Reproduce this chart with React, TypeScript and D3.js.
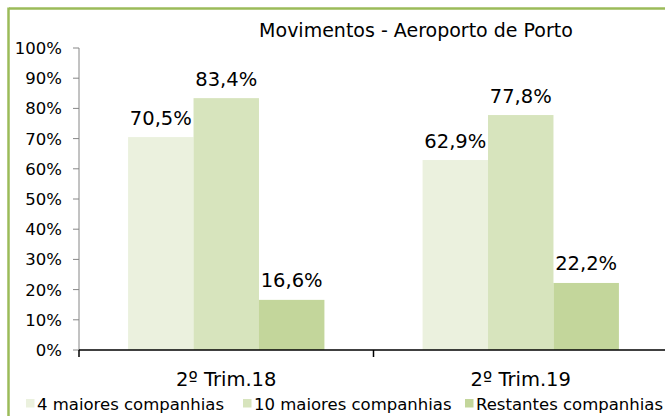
import React from "react";
import * as d3 from "d3";

const categories = ["2º Trim.18", "2º Trim.19"];
const seriesNames = ["4 maiores companhias", "10 maiores companhias", "Restantes companhias"];
const seriesColors = ["#ebf1de", "#d7e4bd", "#c3d69b"];
const top4 = [70.5, 62.9];
const top10 = [83.4, 77.8];
const others = [16.6, 22.2];
const yTicks = [0, 10, 20, 30, 40, 50, 60, 70, 80, 90, 100];
const title = "Movimentos - Aeroporto de Porto";

const W = 665, H = 416;
const FONT = "DejaVu Sans, sans-serif";

export default function App() {
  const series = [top4, top10, others];
  const left = 79, right = 668, top = 48, bottom = 350;
  const y = d3.scaleLinear().domain([0, 100]).range([bottom, top]);
  const x0 = d3.scaleBand().domain(categories).range([left, right]).paddingInner(0).paddingOuter(0);
  const bw = x0.bandwidth();
  const barW = bw / 4.5;
  const fmt = (v: number) => v.toFixed(1).replace(".", ",") + "%";
  const legendX = [26, 243, 465];
  return (
    <svg width={W} height={H} style={{ position: "absolute", left: 0, top: 0, background: "#fff" }}>
      <rect x={0} y={0} width={W} height={H} fill="#fff" />
      <line x1={9} y1={8.5} x2={W} y2={8.5} stroke="#9bbb59" strokeWidth={2.5} />
      <line x1={8.5} y1={7.5} x2={8.5} y2={H} stroke="#9bbb59" strokeWidth={2.5} />
      <text x={416} y={37} textAnchor="middle" fontFamily={FONT} fontSize={19} fill="#000">{title}</text>
      {categories.map((c, ci) => {
        const gx = (x0(c) as number) + bw / 2 - 1.5 * barW;
        return series.map((s, si) => (
          <g key={c + si}>
            <rect x={gx + si * barW} y={y(s[ci])} width={barW} height={bottom - y(s[ci])} fill={seriesColors[si]} />
            <text x={gx + si * barW + barW / 2} y={y(s[ci]) - 12.5} textAnchor="middle" fontFamily={FONT} fontSize={19.5} fill="#000">{fmt(s[ci])}</text>
          </g>
        ));
      })}
      <line x1={left} y1={top} x2={left} y2={bottom} stroke="#868686" strokeWidth={1} />
      {yTicks.map((t) => (
        <g key={t}>
          <line x1={left - 6} y1={y(t)} x2={left} y2={y(t)} stroke="#868686" />
          <text x={62} y={y(t) + 6} textAnchor="end" fontFamily={FONT} fontSize={16.5} fill="#000">{t}%</text>
        </g>
      ))}
      <line x1={left} y1={bottom} x2={right} y2={bottom} stroke="#000" strokeWidth={1.5} />
      {[left, (x0(categories[1]) as number)].map((tx, i) => (
        <line key={i} x1={tx} y1={bottom} x2={tx} y2={bottom + 7} stroke="#000" strokeWidth={1.5} />
      ))}
      {categories.map((c) => (
        <text key={c} x={(x0(c) as number) + bw / 2} y={386} textAnchor="middle" fontFamily={FONT} fontSize={19.5} fill="#000">{c}</text>
      ))}
      {seriesNames.map((n, i) => (
        <g key={n}>
          <rect x={legendX[i]} y={399} width={8.5} height={8.5} fill={seriesColors[i]} />
          <text x={legendX[i] + 11} y={410} fontFamily={FONT} fontSize={16.5} fill="#000">{n}</text>
        </g>
      ))}
    </svg>
  );
}
